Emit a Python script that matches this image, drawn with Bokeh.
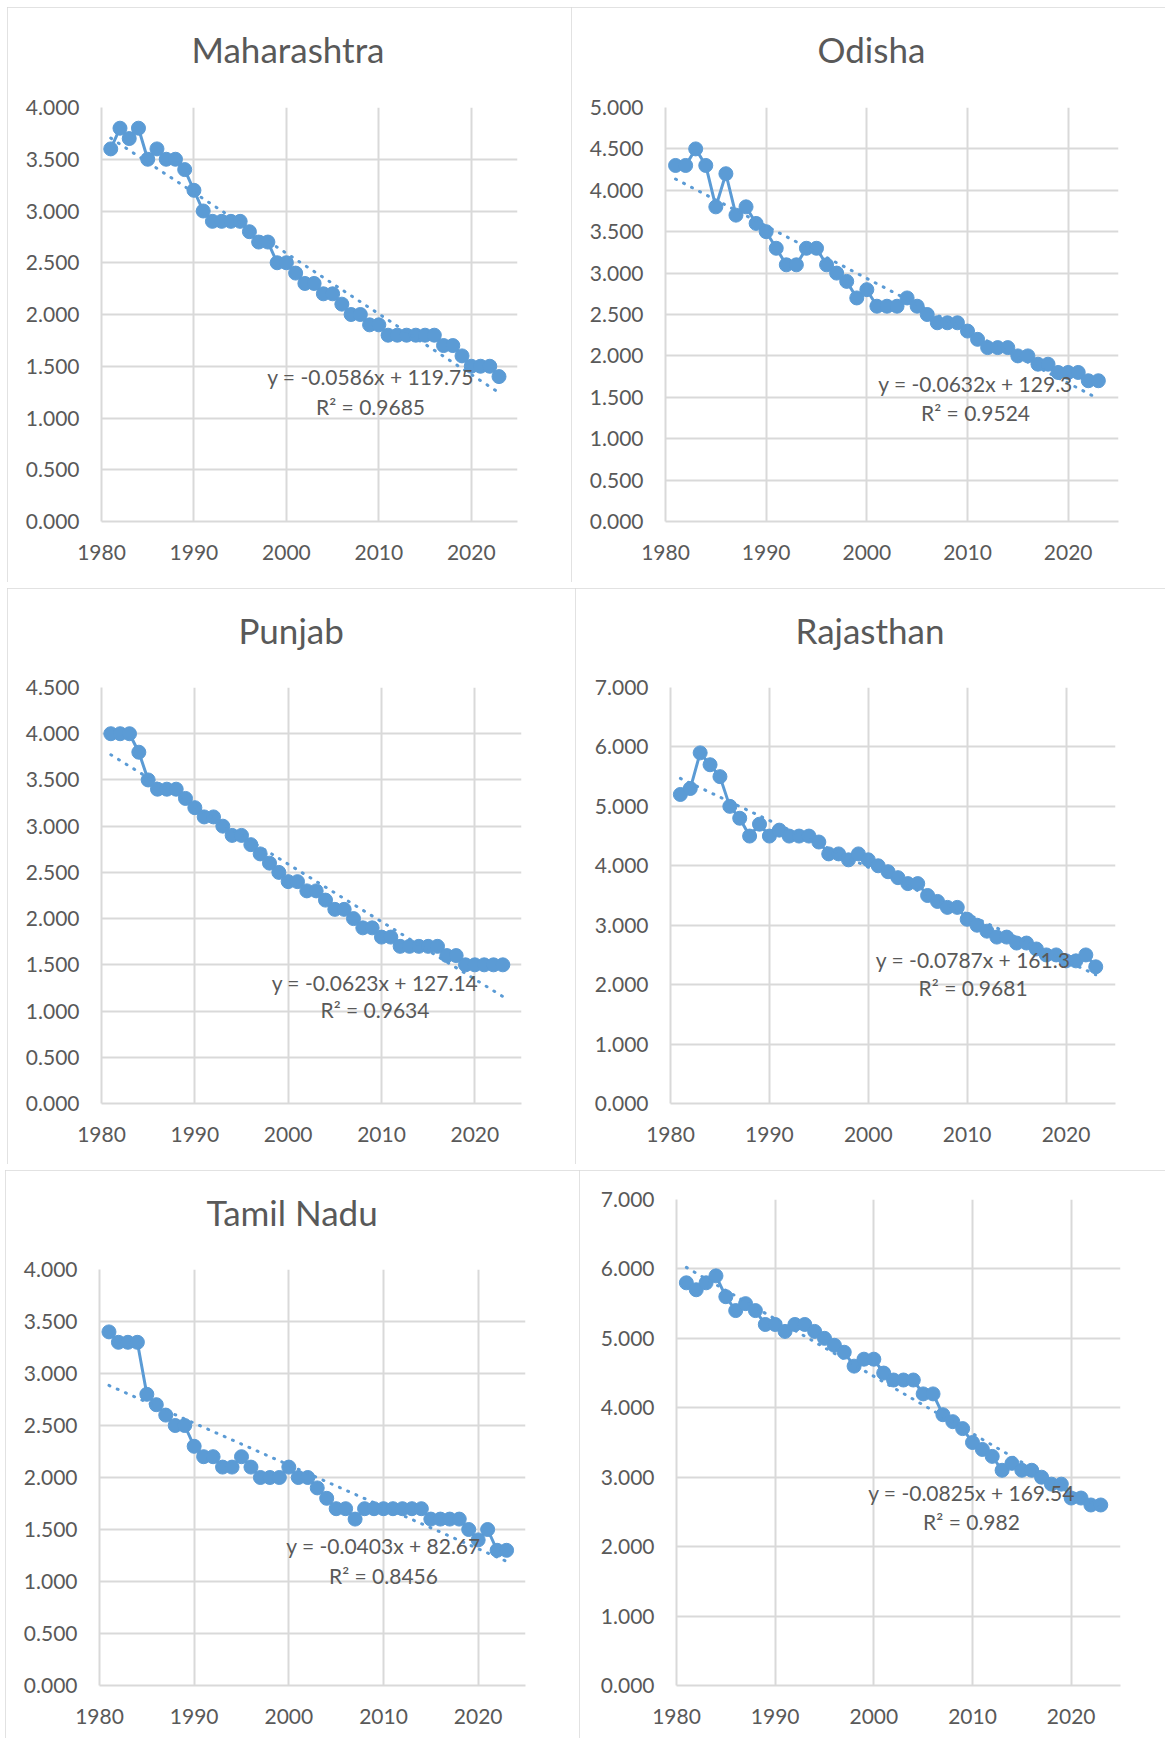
import numpy as np
from bokeh.plotting import figure
from bokeh.layouts import column, row
from bokeh.models import (Range1d, FixedTicker, NumeralTickFormatter, Label, Title, Spacer,
                          LinearAxis)
from bokeh.embed import file_html
from bokeh.resources import INLINE

# ---------------- data ----------------
years = [1981, 1982, 1983, 1984, 1985, 1986, 1987, 1988, 1989, 1990,
         1991, 1992, 1993, 1994, 1995, 1996, 1997, 1998, 1999, 2000,
         2001, 2002, 2003, 2004, 2005, 2006, 2007, 2008, 2009, 2010,
         2011, 2012, 2013, 2014, 2015, 2016, 2017, 2018, 2019, 2020,
         2021, 2022, 2023]

maharashtra = [3.6, 3.8, 3.7, 3.8, 3.5, 3.6, 3.5, 3.5, 3.4, 3.2,
               3.0, 2.9, 2.9, 2.9, 2.9, 2.8, 2.7, 2.7, 2.5, 2.5,
               2.4, 2.3, 2.3, 2.2, 2.2, 2.1, 2.0, 2.0, 1.9, 1.9,
               1.8, 1.8, 1.8, 1.8, 1.8, 1.8, 1.7, 1.7, 1.6, 1.5,
               1.5, 1.5, 1.4]

odisha = [4.3, 4.3, 4.5, 4.3, 3.8, 4.2, 3.7, 3.8, 3.6, 3.5,
          3.3, 3.1, 3.1, 3.3, 3.3, 3.1, 3.0, 2.9, 2.7, 2.8,
          2.6, 2.6, 2.6, 2.7, 2.6, 2.5, 2.4, 2.4, 2.4, 2.3,
          2.2, 2.1, 2.1, 2.1, 2.0, 2.0, 1.9, 1.9, 1.8, 1.8,
          1.8, 1.7, 1.7]

punjab = [4.0, 4.0, 4.0, 3.8, 3.5, 3.4, 3.4, 3.4, 3.3, 3.2,
          3.1, 3.1, 3.0, 2.9, 2.9, 2.8, 2.7, 2.6, 2.5, 2.4,
          2.4, 2.3, 2.3, 2.2, 2.1, 2.1, 2.0, 1.9, 1.9, 1.8,
          1.8, 1.7, 1.7, 1.7, 1.7, 1.7, 1.6, 1.6, 1.5, 1.5,
          1.5, 1.5, 1.5]

rajasthan = [5.2, 5.3, 5.9, 5.7, 5.5, 5.0, 4.8, 4.5, 4.7, 4.5,
             4.6, 4.5, 4.5, 4.5, 4.4, 4.2, 4.2, 4.1, 4.2, 4.1,
             4.0, 3.9, 3.8, 3.7, 3.7, 3.5, 3.4, 3.3, 3.3, 3.1,
             3.0, 2.9, 2.8, 2.8, 2.7, 2.7, 2.6, 2.5, 2.5, 2.4,
             2.4, 2.5, 2.3]

tamil_nadu = [3.4, 3.3, 3.3, 3.3, 2.8, 2.7, 2.6, 2.5, 2.5, 2.3,
              2.2, 2.2, 2.1, 2.1, 2.2, 2.1, 2.0, 2.0, 2.0, 2.1,
              2.0, 2.0, 1.9, 1.8, 1.7, 1.7, 1.6, 1.7, 1.7, 1.7,
              1.7, 1.7, 1.7, 1.7, 1.6, 1.6, 1.6, 1.6, 1.5, 1.4,
              1.5, 1.3, 1.3]

sixth_state = [5.8, 5.7, 5.8, 5.9, 5.6, 5.4, 5.5, 5.4, 5.2, 5.2,
               5.1, 5.2, 5.2, 5.1, 5.0, 4.9, 4.8, 4.6, 4.7, 4.7,
               4.5, 4.4, 4.4, 4.4, 4.2, 4.2, 3.9, 3.8, 3.7, 3.5,
               3.4, 3.3, 3.1, 3.2, 3.1, 3.1, 3.0, 2.9, 2.9, 2.7,
               2.7, 2.6, 2.6]

titles = ["Maharashtra", "Odisha", "Punjab", "Rajasthan", "Tamil Nadu", ""]
equations = ["y = -0.0586x + 119.75", "y = -0.0632x + 129.3",
             "y = -0.0623x + 127.14", "y = -0.0787x + 161.3",
             "y = -0.0403x + 82.67", "y = -0.0825x + 169.54"]
r_squared = ["R\u00b2 = 0.9685", "R\u00b2 = 0.9524", "R\u00b2 = 0.9634",
             "R\u00b2 = 0.9681", "R\u00b2 = 0.8456", "R\u00b2 = 0.982"]
x_ticks = [1980, 1990, 2000, 2010, 2020]
y_max = [4.0, 5.0, 4.5, 7.0, 4.0, 7.0]
y_step = [0.5, 0.5, 0.5, 1.0, 0.5, 1.0]

series = [maharashtra, odisha, punjab, rajasthan, tamil_nadu, sixth_state]

# ---------------- styling ----------------
BLUE = "#5B9BD5"
GRID = "#D9D9D9"
TEXT = "#595959"
FONT = "Lato"

# per panel: size, min borders (l, t, r, b), title offset, title gap, equation position
layouts = [
    dict(w=564, h=575, mb=(94, 100, 54, 61), toff=90, tgap=38, eq=(2009.1, 1.40, 1.11)),
    dict(w=594, h=575, mb=(94, 100, 47, 61), toff=152, tgap=38, eq=(2010.8, 1.672, 1.322)),
    dict(w=568, h=576, mb=(94, 99, 54, 61), toff=137, tgap=37, eq=(2009.3, 1.312, 1.012)),
    dict(w=590, h=576, mb=(95, 99, 50, 61), toff=125, tgap=37, eq=(2010.6, 2.427, 1.949)),
    dict(w=574, h=568, mb=(94, 99, 54, 53), toff=107, tgap=37, eq=(2010.0, 1.343, 1.055)),
    dict(w=586, h=568, mb=(97, 29, 45, 53), toff=0, tgap=0, eq=(2009.9, 2.784, 2.362)),
]


def make_panel(i):
    L = layouts[i]
    ml, mt, mr, mb = L["mb"]
    p = figure(width=L["w"], height=L["h"], output_backend="svg", toolbar_location=None,
               x_range=Range1d(1980, 2025), y_range=Range1d(0, y_max[i]),
               min_border_left=ml, min_border_top=mt, min_border_right=mr, min_border_bottom=mb,
               background_fill_color="white", border_fill_color="white",
               styles={"outline": "2px solid #D9D9D9", "outline-offset": "-2px"})
    p.outline_line_color = None

    yt = list(np.round(np.arange(0, y_max[i] + 1e-9, y_step[i]), 3))
    p.yaxis.ticker = FixedTicker(ticks=yt)
    p.xaxis.ticker = FixedTicker(ticks=x_ticks)
    p.yaxis.formatter = NumeralTickFormatter(format="0.000")

    for ax in (p.xaxis[0], p.yaxis[0]):
        ax.axis_line_color = GRID
        ax.axis_line_width = 2
        ax.major_tick_line_color = None
        ax.minor_tick_line_color = None
        ax.major_tick_out = 0
        ax.major_tick_in = 0
        ax.major_label_text_font = FONT
        ax.major_label_text_font_size = "21px"
        ax.major_label_text_color = TEXT
    p.yaxis.major_label_standoff = 22
    p.xaxis.major_label_standoff = 23

    p.xgrid.grid_line_color = GRID
    p.ygrid.grid_line_color = GRID
    p.xgrid.grid_line_width = 2
    p.ygrid.grid_line_width = 2

    vals = series[i]
    p.line(years, vals, line_color=BLUE, line_width=3)
    p.scatter(years, vals, size=14, fill_color=BLUE, line_color=BLUE)

    slope, intercept = np.polyfit(years, vals, 1)
    xs = [years[0], years[-1]]
    p.line(xs, [slope * x + intercept for x in xs], line_color=BLUE, line_width=3,
           line_dash="1 8", line_cap="round")

    ex, ey1, ey2 = L["eq"]
    p.add_layout(Label(x=ex, y=ey1, text=equations[i], text_font=FONT, text_font_size="21px",
                       text_color=TEXT, text_align="center", text_baseline="alphabetic"))
    p.add_layout(Label(x=ex, y=ey2, text=r_squared[i], text_font=FONT, text_font_size="21px",
                       text_color=TEXT, text_align="center", text_baseline="alphabetic"))

    if titles[i]:
        # label-less axis with one white tick: only reserves a gap between title and plot area
        gap = LinearAxis(ticker=FixedTicker(ticks=[x_ticks[0]]),
                         major_label_overrides={x_ticks[0]: ""},
                         axis_line_color=None, major_tick_line_color="white",
                         major_tick_line_width=1, minor_tick_line_color=None,
                         major_tick_out=L["tgap"], major_tick_in=0, minor_tick_out=0,
                         major_label_standoff=0, major_label_text_font_size="1px")
        p.add_layout(gap, "above")
        p.add_layout(Title(text=titles[i], align="left", offset=L["toff"], vertical_align="bottom",
                           standoff=0, text_font=FONT, text_font_size="35px",
                           text_font_style="normal", text_color=TEXT), "above")
    return p


panels = [make_panel(i) for i in range(6)]
layout = column(
    Spacer(height=7),
    row(Spacer(width=7), column(panels[0]), column(panels[1])),
    Spacer(height=6),
    row(Spacer(width=7), column(panels[2]), column(panels[3])),
    Spacer(height=6),
    row(Spacer(width=5), column(panels[4]), column(panels[5])),
)

open("out.html", "w").write(file_html(layout, INLINE))
